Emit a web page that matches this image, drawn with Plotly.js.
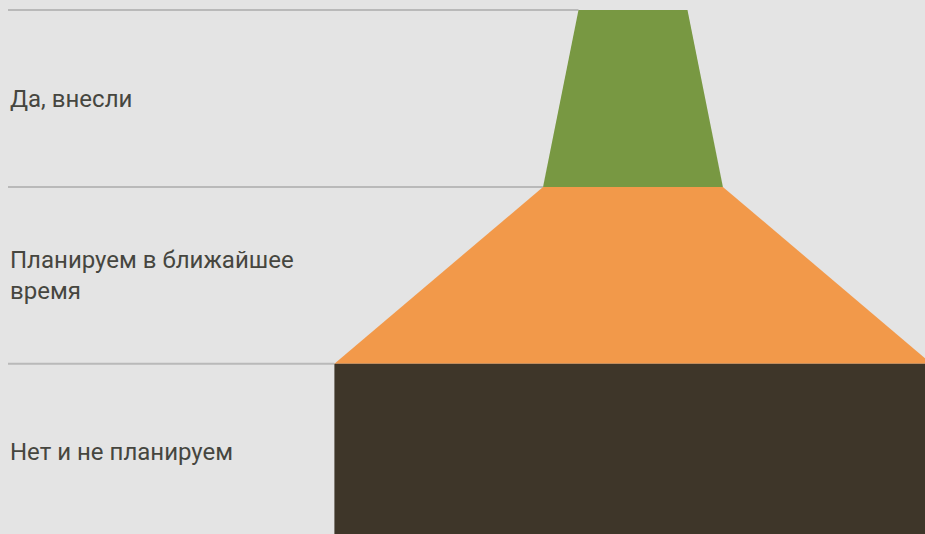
<!DOCTYPE html>
<html>
<head>
<meta charset="utf-8">
<script src="https://cdn.plot.ly/plotly-3.0.1.min.js"></script>
<style>html,body{margin:0;padding:0;background:#e4e4e4;}#chart{width:925px;height:534px;}</style>
</head>
<body>
<div id="chart"></div>
<script>
// Data (top to bottom)
const categories = ["Да, внесли", "Планируем в ближайшее<br>время", "Нет и не планируем"];
const values = [12.3, 20.3, 67.4];
const colors = ["#789842", "#f2994a", "#3e3629"];

const xRange = [-70.54, 32.96];

const traces = categories.map(function (cat, i) {
  const wTop = values[i] / 2;
  const wBot = (i + 1 < values.length ? values[i + 1] : values[i]) / 2;
  return {
    type: "scatter",
    mode: "lines",
    x: [-wTop, wTop, wBot, -wBot, -wTop],
    y: [i, i, i + 1, i + 1, i],
    fill: "toself",
    fillcolor: colors[i],
    line: {width: 0, color: colors[i]},
    name: cat.replace("<br>", " "),
    hoverinfo: "name",
    showlegend: false
  };
});

const annotations = categories.map(function (cat, i) {
  return {
    xref: "paper", yref: "y", x: 0, y: i + 0.5,
    text: cat, showarrow: false, xanchor: "left", yanchor: "middle", align: "left",
    font: {family: "Roboto, sans-serif", size: 24, color: "#46463f"}
  };
});

// category boundary lines, from the left edge up to the funnel
const shapes = categories.map(function (cat, i) {
  return {
    type: "line", xref: "x", yref: "y", layer: "below",
    x0: xRange[0], x1: -values[i] / 2, y0: i, y1: i,
    line: {color: "#b9b9b9", width: 2}
  };
});

const layout = {
  width: 925, height: 534,
  margin: {l: 8, r: 0, t: 8, b: 0, pad: 0},
  paper_bgcolor: "#e4e4e4",
  plot_bgcolor: "#e4e4e4",
  showlegend: false,
  xaxis: {range: xRange, showgrid: false, zeroline: false, showticklabels: false, fixedrange: true},
  yaxis: {range: [2.963, -0.012], showgrid: false, zeroline: false, showticklabels: false, fixedrange: true},
  shapes: shapes,
  annotations: annotations
};

Plotly.newPlot("chart", traces, layout, {displayModeBar: false, staticPlot: true});
</script>
</body>
</html>
